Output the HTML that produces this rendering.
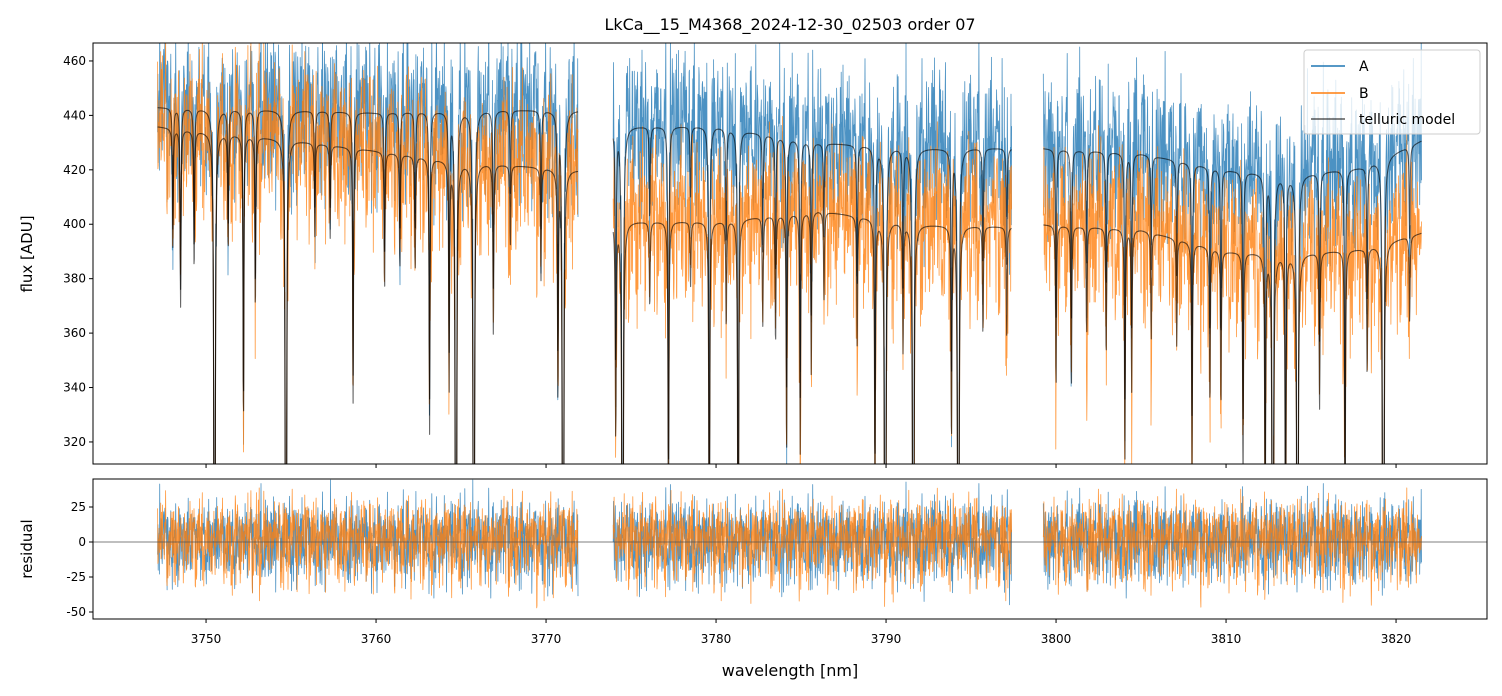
<!DOCTYPE html>
<html><head><meta charset="utf-8">
<style>
html,body{margin:0;padding:0;background:#fff;overflow:hidden;}
body{width:1502px;height:696px;overflow:hidden;font-family:"Liberation Sans","DejaVu Sans",sans-serif;}
svg{display:block;}
svg text{font-family:"DejaVu Sans","Liberation Sans",sans-serif;fill:#000;}
</style></head>
<body>
<svg id="chart" width="1502" height="696" viewBox="0 0 1502 696" xmlns="http://www.w3.org/2000/svg">
<defs>
<clipPath id="clipMain"><rect x="93" y="43" width="1394" height="421"/></clipPath>
<clipPath id="clipRes"><rect x="93" y="479" width="1394" height="140"/></clipPath>
</defs>
<text x="790" y="30" font-size="16" text-anchor="middle">LkCa__15_M4368_2024-12-30_02503  order 07</text>
<g id="mainSeries" clip-path="url(#clipMain)"></g>
<g id="resSeries" clip-path="url(#clipRes)"></g>
<rect x="93" y="43" width="1394" height="421" fill="none" stroke="#000" stroke-width="1"/>
<rect x="93" y="479" width="1394" height="140" fill="none" stroke="#000" stroke-width="1"/>
<g id="ticks"></g>
<text transform="translate(32,254) rotate(-90)" font-size="15" text-anchor="middle">flux [ADU]</text>
<text transform="translate(32,549) rotate(-90)" font-size="15" text-anchor="middle">residual</text>
<text x="790" y="676" font-size="16" text-anchor="middle">wavelength [nm]</text>
<g>
<rect x="1304" y="50" width="176" height="84" rx="3" fill="#fff" fill-opacity="0.8" stroke="#ccc"/>
<line x1="1311" y1="66" x2="1345" y2="66" stroke="#1f77b4" stroke-width="1.5"/>
<text x="1359" y="71" font-size="14">A</text>
<line x1="1311" y1="93" x2="1345" y2="93" stroke="#ff7f0e" stroke-width="1.5"/>
<text x="1359" y="98" font-size="14">B</text>
<line x1="1311" y1="119" x2="1345" y2="119" stroke="#000" stroke-opacity="0.65" stroke-width="1.5"/>
<text x="1359" y="124" font-size="14">telluric model</text>
</g>
</svg>
<script>
// ---- data ----
const segments = [[3747.15, 3771.9], [3773.95, 3797.4], [3799.25, 3821.5]];
const lineCenters = [3748.05,3748.5,3749.3,3750.5,3751.3,3752.2,3752.9,3754.7,3756.4,3757.3,3758.65,3760.5,3761.4,3762.3,3763.15,3764.3,3764.7,3765.75,3766.9,3767.9,3769.7,3770.7,3771.0,
 3774.1,3774.5,3776.1,3777.2,3778.5,3779.6,3780.6,3781.3,3782.75,3783.5,3784.15,3784.95,3785.6,3786.35,3788.3,3789.35,3789.95,3791.0,3791.6,3793.85,3794.25,3795.7,3797.1,
 3800.0,3800.9,3801.8,3802.95,3804.05,3804.45,3805.6,3807.1,3808.0,3809.05,3809.7,3811.0,3812.3,3812.75,3813.5,3814.2,3815.5,3817.0,3818.3,3819.25,3820.8];
const lineDepths = [0.10,0.15,0.12,0.97,0.10,0.25,0.15,0.97,0.08,0.08,0.22,0.12,0.10,0.10,0.24,0.20,0.92,0.95,0.15,0.07,0.10,0.20,0.97,
 0.20,0.95,0.08,0.30,0.06,0.40,0.10,0.45,0.10,0.12,0.22,0.22,0.15,0.08,0.12,0.28,0.96,0.12,0.96,0.20,0.96,0.10,0.10,
 0.15,0.15,0.10,0.12,0.22,0.15,0.10,0.10,0.22,0.15,0.15,0.22,0.28,0.95,0.30,0.95,0.15,0.28,0.12,0.96,0.08];
const contKnotsX = [3747, 3755, 3760, 3765, 3772, 3774, 3780, 3786, 3792, 3797.5, 3799, 3805, 3810, 3814, 3818, 3821.6];
const contA = [443, 442, 441, 442, 442, 436, 436, 430, 428, 428, 428, 426, 420, 418, 421, 431];
const contB = [436, 431, 427, 423, 420, 401, 401, 405, 400, 399, 400, 398, 390, 389, 391, 397];
const noiseTable = [0.3,-1.2,0.8,1.9,-0.4,-2.1,0.6,1.1,-0.9,0.2,2.4,-1.6,-0.3,1.4,-0.7,0.9,-2.6,0.5,1.7,-1.1,
 0.1,-0.5,2.0,-1.8,1.2,-0.2,-1.4,0.7,2.8,-0.8,0.4,-2.2,1.5,-0.6,0.0,1.0,-1.3,2.2,-0.1,-1.9,
 0.9,1.6,-0.4,-3.0,0.6,1.3,-1.0,0.3,-0.7,2.5,-1.5,0.8,-0.2,1.8,-2.4,0.2,1.1,-0.9,0.5,-1.7,
 2.1,-0.3,-1.1,0.4,1.4,-2.0,0.7,-0.6,1.9,-1.2,0.0,-2.8,1.2,0.6,-0.4,2.3,-1.0,0.3,-1.6,1.0,-0.8,0.5,1.7,-2.3,0.1,-0.5,2.6,-1.4,0.9,-0.1,-3.2,1.3,3.1];
const xTicks = [3750,3760,3770,3780,3790,3800,3810,3820];
const yTicksMain = [320,340,360,380,400,420,440,460];
const yTicksRes = [25,0,-25,-50];
const sigmaA = 12, sigmaB = 12;

// ---- axes ----
const X0=93, X1=1487;
const xMin=3743.35, xMax=3825.35;
const xs = v => X0 + (v - xMin) / (xMax - xMin) * (X1 - X0);
const yMainTop=43, yMainBot=464, yMainMin=311.9, yMainMax=466.6;
const ys = v => yMainBot - (v - yMainMin) / (yMainMax - yMainMin) * (yMainBot - yMainTop);
const yResTop=479, yResBot=619, yResMin=-55, yResMax=45;
const yr = v => yResBot - (v - yResMin) / (yResMax - yResMin) * (yResBot - yResTop);

const NS = "http://www.w3.org/2000/svg";
function interp(x, kx, kv){
  if (x <= kx[0]) return kv[0];
  for (let i=1;i<kx.length;i++){ if (x <= kx[i]) { const t=(x-kx[i-1])/(kx[i]-kx[i-1]); return kv[i-1]+t*(kv[i]-kv[i-1]); } }
  return kv[kv.length-1];
}
function trans(x){
  let T=1; const g=0.03;
  for (let i=0;i<lineCenters.length;i++){ const d=x-lineCenters[i]; T*=1-lineDepths[i]*g*g/(d*d+g*g); }
  return T;
}
const step=0.018;
const mainG=document.getElementById('mainSeries'), resG=document.getElementById('resSeries');
function poly(parent, pts, color, w, op, name){
  const p=document.createElementNS(NS,'polyline');
  p.setAttribute('points', pts.map(q=>q[0].toFixed(1)+','+q[1].toFixed(1)).join(' '));
  p.setAttribute('fill','none'); p.setAttribute('stroke',color); p.setAttribute('stroke-width',w); p.setAttribute('stroke-opacity',op);
  p.setAttribute('stroke-linejoin','round');
  
  
  parent.appendChild(p);
}
const N=noiseTable.length;
const series = {A:[],B:[],mA:[],mB:[],rA:[],rB:[]};
let idx=0;
function nz(i,a,b,c,d){
  return noiseTable[(i*a+b)%N]*0.6+noiseTable[(i*c+d)%N]*0.5+noiseTable[((i*i)%997+b)%N]*0.4;
}
segments.forEach((s,si)=>{
  const dA=[],dB=[],mA=[],mB=[],rA=[],rB=[];
  for (let x=s[0]; x<=s[1]; x+=step, idx++){
    const T=trans(x);
    const a=interp(x,contKnotsX,contA)*T, b=interp(x,contKnotsX,contB)*T;
    const nA=nz(idx,7,0,13,5)*sigmaA;
    const nB=nz(idx,11,3,17,9)*sigmaB;
    const px=xs(x);
    dA.push([px,ys(a+nA)]); dB.push([px,ys(b+nB)]);
    mA.push([px,ys(a)]); mB.push([px,ys(b)]);
    rA.push([px,yr(nA)]); rB.push([px,yr(nB)]);
  }
  series.A.push(dA);series.B.push(dB);series.mA.push(mA);series.mB.push(mB);series.rA.push(rA);series.rB.push(rB);
});
series.A.forEach(p=>poly(mainG,p,'#1f77b4',0.8,0.8,'series-a-line'));
series.B.forEach(p=>poly(mainG,p,'#ff7f0e',0.8,0.8,'series-b-line'));
series.mA.forEach(p=>poly(mainG,p,'#000',1.1,0.6,'telluric-model-a-line'));
series.mB.forEach(p=>poly(mainG,p,'#000',1.1,0.6,'telluric-model-b-line'));
const zl=document.createElementNS(NS,'line');
zl.setAttribute('x1',X0);zl.setAttribute('x2',X1);zl.setAttribute('y1',yr(0));zl.setAttribute('y2',yr(0));
zl.setAttribute('stroke','#555');zl.setAttribute('stroke-width','0.7');


series.rA.forEach(p=>poly(resG,p,'#1f77b4',0.8,0.8,'residual-a-line'));
series.rB.forEach(p=>poly(resG,p,'#ff7f0e',0.8,0.8,'residual-b-line'));
resG.appendChild(zl);

// ticks
const tg=document.getElementById('ticks');
function ln(x1,y1,x2,y2,name){const l=document.createElementNS(NS,'line');l.setAttribute('x1',x1);l.setAttribute('y1',y1);l.setAttribute('x2',x2);l.setAttribute('y2',y2);l.setAttribute('stroke','#000');l.setAttribute('stroke-width','1');
 
 
 tg.appendChild(l);}
function tx(x,y,s,anchor,name){const t=document.createElementNS(NS,'text');t.setAttribute('x',x);t.setAttribute('y',y);t.setAttribute('font-size','12');t.setAttribute('text-anchor',anchor);t.textContent=s;
 
 
 tg.appendChild(t);}
xTicks.forEach(v=>{const x=xs(v);ln(x,yMainBot,x,yMainBot+4,'x-tick-main');ln(x,yResBot,x,yResBot+4,'x-tick');tx(x,yResBot+24,String(v),'middle','x-tick-label');});
yTicksMain.forEach(v=>{const y=ys(v);ln(X0-4,y,X0,y,'y-tick-main');tx(X0-7,y+4,String(v),'end','y-tick-label-main');});
yTicksRes.forEach(v=>{const y=yr(v);ln(X0-4,y,X0,y,'y-tick-residual');tx(X0-7,y+4,String(v),'end','y-tick-label-residual');});
</script>
</body></html>
